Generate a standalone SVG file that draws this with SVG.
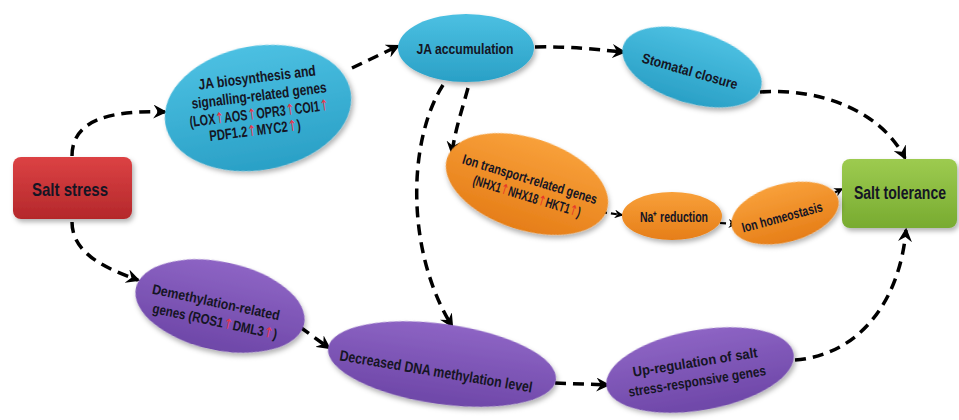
<svg xmlns="http://www.w3.org/2000/svg" width="959" height="420" viewBox="0 0 959 420">
<defs>
<linearGradient id="gBlue" x1="0" y1="0" x2="0" y2="1"><stop offset="0" stop-color="#4cc0e2"/><stop offset="1" stop-color="#2aa0c6"/></linearGradient>
<linearGradient id="gOrange" x1="0" y1="0" x2="0" y2="1"><stop offset="0" stop-color="#f8a03a"/><stop offset="1" stop-color="#e67e18"/></linearGradient>
<linearGradient id="gPurple" x1="0" y1="0" x2="0" y2="1"><stop offset="0" stop-color="#8d64c4"/><stop offset="1" stop-color="#6e47a8"/></linearGradient>
<linearGradient id="gRed" x1="0" y1="0" x2="0" y2="1"><stop offset="0" stop-color="#dc4244"/><stop offset="1" stop-color="#b4282b"/></linearGradient>
<linearGradient id="gGreen" x1="0" y1="0" x2="0" y2="1"><stop offset="0" stop-color="#9dcb50"/><stop offset="1" stop-color="#78ab30"/></linearGradient>
<filter id="sh" x="-20%" y="-20%" width="140%" height="150%"><feDropShadow dx="2" dy="3" stdDeviation="2.5" flood-color="#000" flood-opacity="0.3"/></filter>
<marker id="ah" viewBox="0 0 12 12" refX="10" refY="6" markerWidth="14" markerHeight="14" markerUnits="userSpaceOnUse" orient="auto"><path d="M0,0 L12,6 L0,12 L4,6 z" fill="#000"/></marker>
<marker id="ahs" viewBox="0 0 12 12" refX="10" refY="6" markerWidth="9" markerHeight="9" markerUnits="userSpaceOnUse" orient="auto"><path d="M0,0 L12,6 L0,12 L4,6 z" fill="#000"/></marker>
</defs>
<style>
.t{font-family:"Liberation Sans",Arial,sans-serif;font-weight:bold;fill:#151524;text-anchor:middle;}
.up{fill:#e8354a;font-family:"DejaVu Sans","Liberation Sans",sans-serif;font-weight:normal;}
.c{fill:none;stroke:#000;stroke-width:3.5;stroke-dasharray:11 7;marker-end:url(#ah);}
.cs{fill:none;stroke:#000;stroke-width:2.2;stroke-dasharray:6 4;marker-end:url(#ahs);}
</style>
<rect width="959" height="420" fill="#fff"/>

<g id="connectors">
<path class="c" d="M72,156 C72,120 110,110 165,112"/>
<path class="c" d="M72,222 C72,255 110,270 138,280"/>
<path class="c" d="M352,68 L398,46"/>
<path class="c" d="M535,47 C570,46 600,50 624,52"/>
<path class="c" d="M760,92 C820,88 880,110 905,158"/>
<path class="c" d="M468,88 C462,110 455,130 452,153"/>
<path class="c" d="M443,85 C408,140 405,250 452,326"/>
<path class="c" d="M300,327 L329,348"/>
<path class="c" d="M555,383 L608,385"/>
<path class="c" d="M795,360 C860,355 900,300 906,230"/>
<path class="cs" d="M601,212 L622,215"/>
<path class="cs" d="M720,223 L736,224"/>
<path class="cs" d="M826,197 L842,189"/>
</g>

<g id="salt-stress">
<rect x="13" y="157" width="119" height="62" rx="8" fill="url(#gRed)" filter="url(#sh)"/>
<text class="t" x="70" y="196" font-size="19" textLength="76" lengthAdjust="spacingAndGlyphs">Salt stress</text>
</g>

<g id="salt-tolerance">
<rect x="842" y="159" width="115" height="69" rx="8" fill="url(#gGreen)" filter="url(#sh)"/>
<text class="t" x="0" y="0" font-size="19" transform="translate(900 199) scale(0.74 1)">Salt tolerance</text>
</g>

<g id="ja-biosynthesis">
<ellipse cx="258" cy="108" rx="94" ry="62" transform="rotate(-10 258 108)" fill="url(#gBlue)" filter="url(#sh)"/>
<text class="t" x="257" y="82.5" font-size="15" textLength="118" lengthAdjust="spacingAndGlyphs" transform="rotate(-7 257 77)">JA biosynthesis and</text>
<text class="t" x="259" y="100.5" font-size="15" textLength="136" lengthAdjust="spacingAndGlyphs" transform="rotate(-7 259 95)">signalling-related genes</text>
<text class="t" x="259" y="118.5" font-size="15" textLength="140" lengthAdjust="spacingAndGlyphs" transform="rotate(-7 259 113)">(LOX<tspan class="up">↑</tspan>AOS<tspan class="up">↑</tspan>OPR3<tspan class="up">↑</tspan>COI1<tspan class="up">↑</tspan></text>
<text class="t" x="255" y="135.5" font-size="15" textLength="92" lengthAdjust="spacingAndGlyphs" transform="rotate(-7 255 130)">PDF1.2<tspan class="up">↑</tspan>MYC2<tspan class="up">↑</tspan>)</text>
</g>

<g id="ja-accumulation">
<ellipse cx="466" cy="48" rx="68" ry="34" fill="url(#gBlue)" filter="url(#sh)"/>
<text class="t" x="465" y="53.5" font-size="15" textLength="97" lengthAdjust="spacingAndGlyphs">JA accumulation</text>
</g>

<g id="stomatal-closure">
<ellipse cx="692" cy="67" rx="72" ry="36" transform="rotate(17 692 67)" fill="url(#gBlue)" filter="url(#sh)"/>
<text class="t" x="690" y="76" font-size="14" textLength="99" lengthAdjust="spacingAndGlyphs" transform="rotate(16 690 71)">Stomatal closure</text>
</g>

<g id="ion-transport">
<ellipse cx="527" cy="184" rx="84" ry="46" transform="rotate(18 527 184)" fill="url(#gOrange)" filter="url(#sh)"/>
<text class="t" x="530" y="184" font-size="14" textLength="140" lengthAdjust="spacingAndGlyphs" transform="rotate(17 530 179)">Ion transport-related genes</text>
<text class="t" x="527" y="201" font-size="14" textLength="112" lengthAdjust="spacingAndGlyphs" transform="rotate(17 527 196)">(NHX1<tspan class="up" style="fill:#e8352a">↑</tspan>NHX18<tspan class="up" style="fill:#e8352a">↑</tspan>HKT1<tspan class="up" style="fill:#e8352a">↑</tspan>)</text>
</g>

<g id="na-reduction">
<ellipse cx="672" cy="216" rx="50" ry="24" fill="url(#gOrange)" filter="url(#sh)"/>
<text class="t" x="674" y="222" font-size="14" textLength="68" lengthAdjust="spacingAndGlyphs">Na⁺ reduction</text>
</g>

<g id="ion-homeostasis">
<ellipse cx="785" cy="213" rx="55" ry="29" transform="rotate(-15 785 213)" fill="url(#gOrange)" filter="url(#sh)"/>
<text class="t" x="782" y="222" font-size="14" textLength="83" lengthAdjust="spacingAndGlyphs" transform="rotate(-15 782 217)">Ion homeostasis</text>
</g>

<g id="demethylation">
<ellipse cx="220" cy="306" rx="86" ry="44" transform="rotate(12 220 306)" fill="url(#gPurple)" filter="url(#sh)"/>
<text class="t" x="216" y="307" font-size="14" textLength="130" lengthAdjust="spacingAndGlyphs" transform="rotate(12 216 302)">Demethylation-related</text>
<text class="t" x="215" y="326" font-size="14" textLength="127" lengthAdjust="spacingAndGlyphs" transform="rotate(12 215 321)">genes (ROS1<tspan class="up">↑</tspan>DML3<tspan class="up">↑</tspan>)</text>
</g>

<g id="decreased-dna-methylation">
<ellipse cx="442" cy="364" rx="115" ry="40" transform="rotate(8 442 364)" fill="url(#gPurple)" filter="url(#sh)"/>
<text class="t" x="436" y="376.5" font-size="15" textLength="195" lengthAdjust="spacingAndGlyphs" transform="rotate(9.5 436 371)">Decreased DNA methylation level</text>
</g>

<g id="up-regulation">
<ellipse cx="700" cy="370" rx="95" ry="40" transform="rotate(-10 700 370)" fill="url(#gPurple)" filter="url(#sh)"/>
<text class="t" x="695" y="367" font-size="14" textLength="126" lengthAdjust="spacingAndGlyphs" transform="rotate(-9 695 362)">Up-regulation of salt</text>
<text class="t" x="697" y="386" font-size="14" textLength="139" lengthAdjust="spacingAndGlyphs" transform="rotate(-9 697 381)">stress-responsive genes</text>
</g>
</svg>
